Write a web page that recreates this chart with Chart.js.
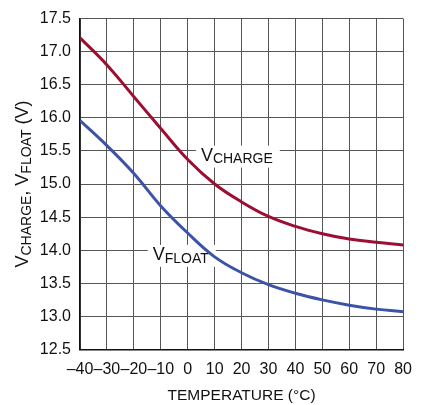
<!DOCTYPE html>
<html>
<head>
<meta charset="utf-8">
<script src="https://cdn.jsdelivr.net/npm/chart.js@4"></script>
<style>
  html, body { margin: 0; padding: 0; background: #fff; }
  #wrap { width: 422px; height: 405px; position: relative; }
</style>
</head>
<body>
<div id="wrap"><canvas id="chart"></canvas></div>
<script>
// Values
const temps = [-40, -30, -20, -10, 0, 10, 20, 30, 40, 50, 60, 70, 80];
const vCharge = [17.21, 16.80, 16.32, 15.84, 15.37, 15.00, 14.73, 14.51, 14.36, 14.25, 14.17, 14.12, 14.08];
const vFloat = [15.96, 15.58, 15.16, 14.67, 14.26, 13.90, 13.66, 13.48, 13.35, 13.25, 13.17, 13.11, 13.07];

// curve labels: [main, subscript, x value, y value]
const curveLabels = [
    ['V', 'CHARGE', 4.9, 15.43],
    ['V', 'FLOAT', -13, 13.93]
];
const yTitle = [['V', false], ['CHARGE', true], [', ', false], ['V', false], ['FLOAT', true], [' (V)', false]];
const xTitle = 'TEMPERATURE (°C)';

const FONT = "'Liberation Sans', Arial, sans-serif";
const RED = '#9c0f33';
const BLUE = '#3b54a5';

function toPoints(ys) {
    return temps.map((t, i) => ({ x: t, y: ys[i] }));
}

// draws "V" + smaller subscript text
function drawSubText(ctx, parts, x, y) {
    let cx = x;
    parts.forEach(([txt, sub]) => {
        ctx.font = (sub ? '14px ' : '18px ') + FONT;
        ctx.fillText(txt, cx, sub ? y + 4 : y);
        cx += ctx.measureText(txt).width;
    });
    return cx - x;
}

function measureParts(ctx, parts) {
    let w = 0;
    parts.forEach(([txt, sub]) => {
        ctx.font = (sub ? '14px ' : '18px ') + FONT;
        w += ctx.measureText(txt).width;
    });
    return w;
}

const labelPlugin = {
    id: 'labels',
    beforeDatasetsDraw(chart) {
        const ctx = chart.ctx;
        const xs = chart.scales.x, ys = chart.scales.y;
        ctx.save();
        ctx.textBaseline = 'middle';
        ctx.textAlign = 'left';
        curveLabels.forEach(([main, sub, xv, yv]) => {
            const px = xs.getPixelForValue(xv);
            const py = ys.getPixelForValue(yv);
            const parts = [[main, false], [sub, true]];
            const w = measureParts(ctx, parts);
            ctx.fillStyle = '#fff';
            ctx.fillRect(px - 5, py - 10, w + 12, 22);
            ctx.fillStyle = '#111';
            drawSubText(ctx, parts, px, py);
        });
        ctx.restore();
    },
    afterDraw(chart) {
        const ctx = chart.ctx;
        const area = chart.chartArea;
        ctx.save();
        ctx.translate(23, (area.top + area.bottom) / 2);
        ctx.rotate(-Math.PI / 2);
        ctx.textBaseline = 'middle';
        ctx.textAlign = 'left';
        ctx.fillStyle = '#111';
        const w = measureParts(ctx, yTitle);
        drawSubText(ctx, yTitle, -w / 2, 0);
        ctx.restore();
    }
};

new Chart(document.getElementById('chart'), {
    type: 'line',
    data: {
        datasets: [
            {
                label: 'VCHARGE',
                data: toPoints(vCharge),
                borderColor: RED,
                borderWidth: 3,
                pointRadius: 0,
                tension: 0.4
            },
            {
                label: 'VFLOAT',
                data: toPoints(vFloat),
                borderColor: BLUE,
                borderWidth: 3,
                pointRadius: 0,
                tension: 0.4
            }
        ]
    },
    options: {
        responsive: true,
        maintainAspectRatio: false,
        animation: false,
        layout: { padding: { top: 15, right: 8, left: 0, bottom: 0 } },
        plugins: {
            legend: { display: false },
            tooltip: { enabled: false }
        },
        scales: {
            x: {
                type: 'linear',
                min: -40,
                max: 80,
                afterFit: (s) => { s.height = 55.5; },
                ticks: {
                    stepSize: 10,
                    autoSkip: false,
                    color: '#111',
                    padding: 10,
                    maxRotation: 0,
                    font: { family: FONT, size: 16 },
                    callback: (v) => String(v).replace('-', '\u2013')
                },
                grid: { color: '#555', lineWidth: 1, drawTicks: false },
                border: { color: '#111', width: 1.5 },
                title: {
                    display: true,
                    text: xTitle,
                    color: '#111',
                    padding: { top: 6, bottom: 0 },
                    font: { family: FONT, size: 15.5 }
                }
            },
            y: {
                min: 12.5,
                max: 17.5,
                afterFit: (s) => { s.width = 80; },
                ticks: {
                    stepSize: 0.5,
                    color: '#111',
                    padding: 9,
                    font: { family: FONT, size: 16 },
                    callback: (v) => v.toFixed(1)
                },
                grid: { color: '#555', lineWidth: 1, drawTicks: false },
                border: { color: '#111', width: 1.5 }
            }
        }
    },
    plugins: [labelPlugin]
});
</script>
</body>
</html>
